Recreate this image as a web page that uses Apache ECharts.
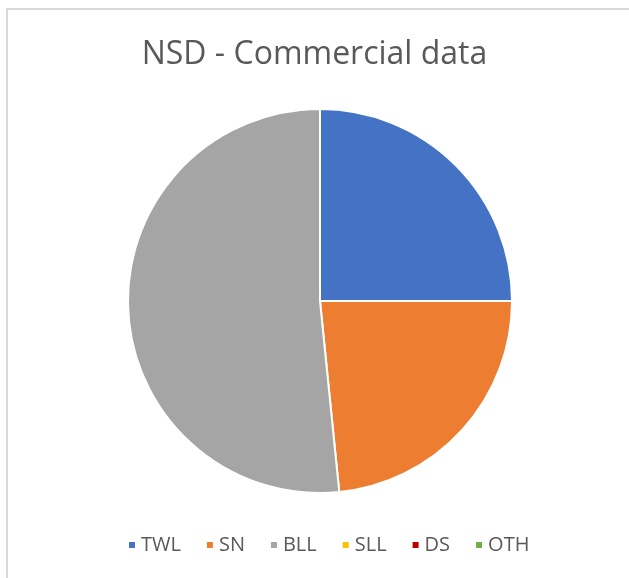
<!DOCTYPE html>
<html>
<head>
<meta charset="utf-8">
<script src="https://cdn.jsdelivr.net/npm/echarts@6/dist/echarts.min.js"></script>
<style>
  html, body { margin: 0; padding: 0; background: #fff; }
  #chart { width: 629px; height: 578px; }
</style>
</head>
<body>
<div id="chart"></div>
<script>
  // share of each category (percent)
  var categories = ['TWL', 'SN', 'BLL', 'SLL', 'DS', 'OTH']
  var shares = [25, 23.4, 51.6, 0, 0, 0]
  var colors = ['#4472C4', '#ED7D31', '#A5A5A5', '#FFC000', '#C00000', '#70AD47']

  var pieData = []
  for (var i = 0; i < categories.length; i++) {
    pieData.push({ name: categories[i], value: shares[i] })
  }

  var chart = echarts.init(document.getElementById('chart'))
  var option = {
    backgroundColor: '#fff',
    color: colors,
    animation: false,
    graphic: [{
      type: 'rect',
      shape: { x: 7, y: 9, width: 700, height: 700 },
      style: { fill: 'none', stroke: '#d9d9d9', lineWidth: 2 },
      silent: true
    }],
    title: {
      text: 'NSD - Commercial data',
      left: 'center',
      top: 34,
      textStyle: {
        color: '#595959',
        fontFamily: 'Open Sans',
        fontWeight: 'normal',
        fontSize: 32
      }
    },
    legend: {
      data: categories,
      bottom: 18,
      left: 122,
      icon: 'rect',
      itemWidth: 8,
      itemHeight: 8,
      itemGap: 24,
      textStyle: {
        color: '#595959',
        fontFamily: 'Open Sans',
        fontSize: 20
      }
    },
    series: [{
      name: 'NSD',
      type: 'pie',
      center: [320, 301],
      radius: 192,
      startAngle: 90,
      clockwise: true,
      label: { show: false },
      labelLine: { show: false },
      emphasis: { disabled: true },
      itemStyle: { borderColor: '#fff', borderWidth: 2 },
      data: pieData
    }]
  }
  chart.setOption(option)
</script>
</body>
</html>
